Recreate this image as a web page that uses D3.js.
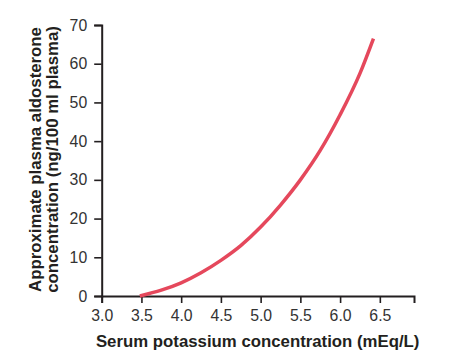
<!DOCTYPE html>
<html><head><meta charset="utf-8">
<script src="https://cdn.jsdelivr.net/npm/d3@7"></script>
<style>body{margin:0;background:#fff}</style>
</head><body>
<svg id="c" width="452" height="359"></svg>
<script>
const potassium = [3.48, 3.75, 4.0, 4.25, 4.5, 4.75, 5.0, 5.25, 5.5, 5.75, 6.0, 6.25, 6.42];
const aldosterone = [0, 1.5, 3.4, 6.0, 9.2, 13.0, 17.8, 23.5, 30.0, 37.6, 46.8, 57.5, 66.5];
const xTicks = [3.0, 3.5, 4.0, 4.5, 5.0, 5.5, 6.0, 6.5];
const yTicks = [0, 10, 20, 30, 40, 50, 60, 70];
const xTitle = "Serum potassium concentration (mEq/L)";
const yTitle = ["Approximate plasma aldosterone", "concentration (ng/100 ml plasma)"];

const svg = d3.select("#c");
const x = d3.scaleLinear().domain([3.0, 6.93]).range([101.7, 414]);
const y = d3.scaleLinear().domain([0, 70]).range([296, 25]);

const font = "Liberation Sans, Arial, Helvetica, sans-serif";
const ink = "#231f20";

const xa = svg.append("g").attr("transform", "translate(0,296)")
  .call(d3.axisBottom(x).tickValues(xTicks).tickFormat(d3.format(".1f")).tickSizeOuter(0).tickSize(7).tickPadding(7));
const ya = svg.append("g").attr("transform", "translate(101.7,0)")
  .call(d3.axisLeft(y).tickValues(yTicks).tickSizeOuter(0).tickSize(7.5).tickPadding(7));
[xa, ya].forEach(a => {
  a.select(".domain").attr("stroke", ink).attr("stroke-width", 2);
  a.selectAll(".tick line").attr("stroke", ink).attr("stroke-width", 1.6);
  a.selectAll(".tick text").attr("fill", "#333").style("font-family", font).style("font-size", "15.8px");
});

const data = potassium.map((k, i) => [k, aldosterone[i]]);
svg.append("path").datum(data)
  .attr("fill", "none").attr("stroke", "#e5485c").attr("stroke-width", 3.5)
  .attr("d", d3.line().x(d => x(d[0])).y(d => y(d[1])).curve(d3.curveMonotoneX));

svg.append("text").attr("x", 257.7).attr("y", 346.5).attr("text-anchor", "middle")
  .style("font-family", font).style("font-weight", "bold").style("font-size", "16.8px").attr("fill", ink)
  .text(xTitle);

yTitle.forEach((t, i) => {
  svg.append("text").attr("transform", `translate(${40.5 + i * 17},159.5) rotate(-90)`)
    .attr("text-anchor", "middle")
    .style("font-family", font).style("font-weight", "bold").style("font-size", "16.8px").attr("fill", ink)
    .text(t);
});
</script>
</body></html>
